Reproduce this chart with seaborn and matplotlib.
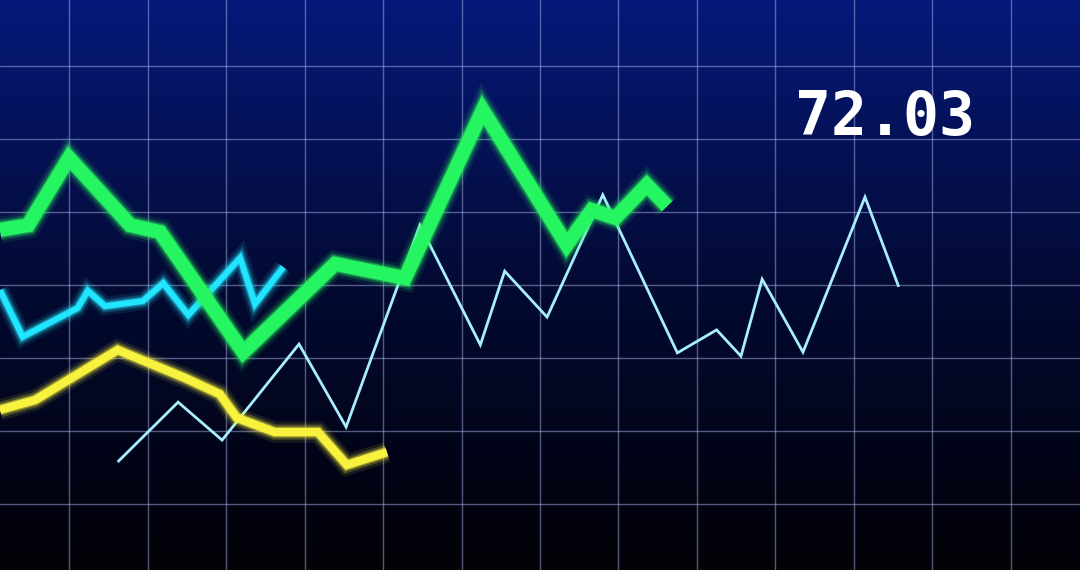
import numpy as np
import pandas as pd
import matplotlib
matplotlib.use("Agg")
import matplotlib.pyplot as plt
import matplotlib.patheffects as pe
from matplotlib.colors import LinearSegmentedColormap
import seaborn as sns

# series (x = time step, y = price)
green_t = [-0.88, -0.52, 0.0, 0.78, 1.16, 2.22, 3.39, 4.28, 5.27, 6.34, 6.66, 6.96, 7.36, 7.62]
green_v = [67.51, 67.64, 69.48, 67.64, 67.45, 64.16, 66.58, 66.19, 70.79, 67.10, 68.05, 67.84, 68.74, 68.16]

cyan_t = [-0.88, -0.59, 0.11, 0.24, 0.46, 0.94, 1.20, 1.52, 2.18, 2.37, 2.73]
cyan_v = [65.86, 64.58, 65.37, 65.84, 65.42, 65.56, 66.05, 65.18, 66.74, 65.48, 66.49]

yellow_t = [-0.88, -0.43, 0.62, 1.48, 1.92, 2.14, 2.62, 3.17, 3.54, 4.05]
yellow_v = [62.58, 62.85, 64.22, 63.45, 63.01, 62.36, 61.97, 61.97, 61.07, 61.42]

thin_t = [0.62, 1.39, 1.95, 2.93, 3.53, 4.47, 5.24, 5.55, 6.09, 6.80, 7.75, 8.25, 8.56, 8.83, 9.35, 10.14, 10.57]
thin_v = [61.15, 62.79, 61.75, 64.38, 62.11, 67.64, 64.36, 66.38, 65.12, 68.47, 64.14, 64.77, 64.05, 66.16, 64.16, 68.41, 65.95]

last_price = "72.03"

x_min, x_max = -0.879, 12.879
y_min, y_max = 58.19, 73.81

sns.set_style("dark")
fig = plt.figure(figsize=(10.8, 5.7), dpi=100)
ax = fig.add_axes([0, 0, 1, 1])

# background gradient
bg = LinearSegmentedColormap.from_list("bg", ["#010106", "#030a33", "#06197a"])
grad = np.linspace(0, 1, 256).reshape(-1, 1)
ax.imshow(grad, cmap=bg, aspect="auto", origin="lower",
          extent=[x_min, x_max, y_min, y_max], zorder=0)

ax.set_xticks(np.arange(0, 13))
ax.set_yticks(np.arange(60, 73, 2))
ax.grid(True, color="#aab0e8", alpha=0.5, linewidth=1.0)
ax.set_axisbelow(False)
for s in ax.spines.values():
    s.set_visible(False)
ax.tick_params(length=0, labelbottom=False, labelleft=False)


def glow(color, w):
    return [pe.Stroke(linewidth=w + 9, foreground=color, alpha=0.10),
            pe.Stroke(linewidth=w + 5, foreground=color, alpha=0.22),
            pe.Stroke(linewidth=w + 2, foreground=color, alpha=0.45),
            pe.Normal()]


def draw(t, v, color, w, fx=True):
    df = pd.DataFrame({"t": t, "v": v})
    sns.lineplot(data=df, x="t", y="v", ax=ax, color=color, linewidth=w,
                 sort=False, estimator=None, solid_joinstyle="miter",
                 solid_capstyle="butt", zorder=3,
                 path_effects=glow(color, w) if fx else None)


draw(thin_t, thin_v, "#a8eeff", 2.0, fx=False)
draw(yellow_t, yellow_v, "#f6f23e", 6.0)
draw(cyan_t, cyan_v, "#22e6ff", 4.2)
draw(green_t, green_v, "#26f562", 10.0)

ax.set_xlim(x_min, x_max)
ax.set_ylim(y_min, y_max)
ax.set_xlabel("")
ax.set_ylabel("")

ax.text(9.25, 70.11, last_price, color="white", fontsize=43, fontweight="bold",
        family="DejaVu Sans Mono", ha="left", va="baseline", zorder=5)

fig.savefig("out.png", dpi=100)
